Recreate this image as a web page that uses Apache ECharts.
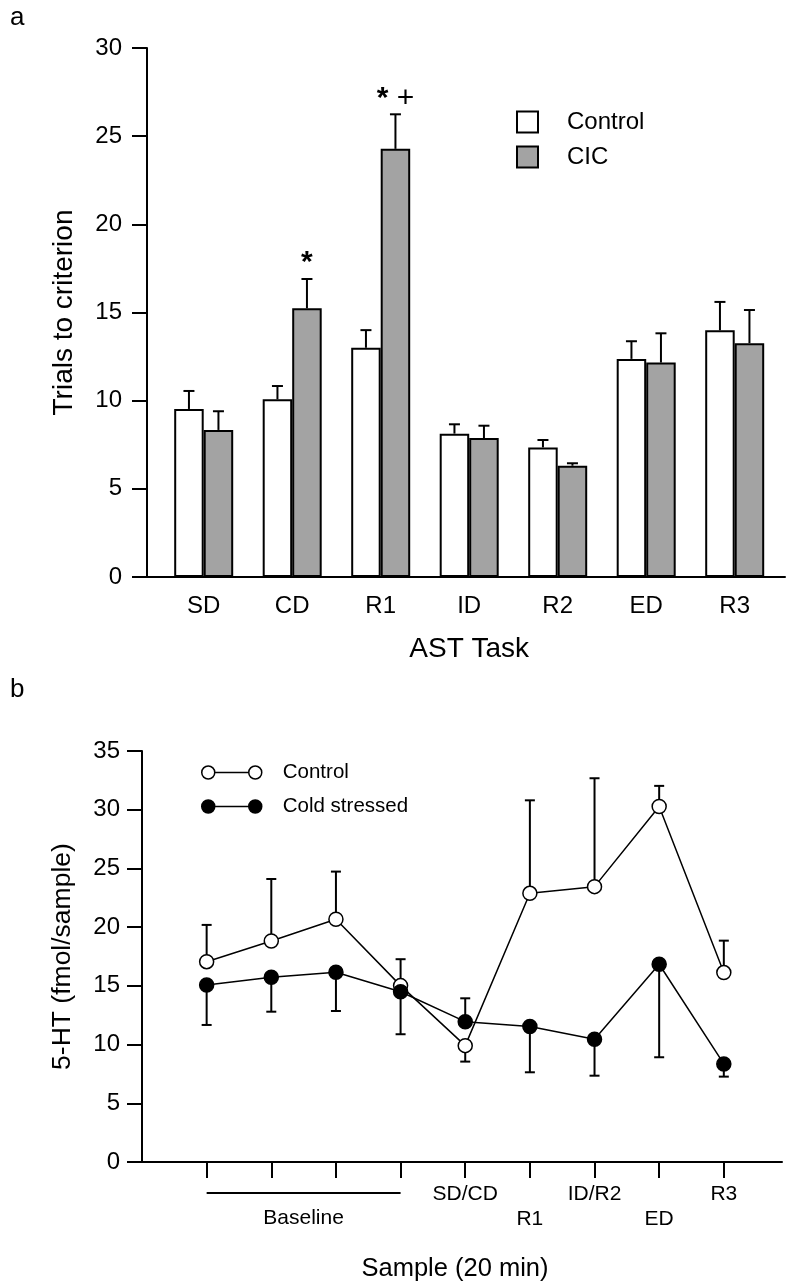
<!DOCTYPE html>
<html><head><meta charset="utf-8">
<script src="https://cdn.jsdelivr.net/npm/echarts@6/dist/echarts.min.js"></script>
<style>html,body{margin:0;padding:0;background:#fff}#c{width:800px;height:1287px}</style>
</head><body><div id="c"></div>
<script>
// ---------- Panel a data ----------
const tasks = ['SD', 'CD', 'R1', 'ID', 'R2', 'ED', 'R3'];
const controlTrials = [9.53, 10.08, 13.0, 8.13, 7.35, 12.37, 13.99];
const controlTrialsErrEnd = [10.55, 10.83, 14.0, 8.66, 7.77, 13.37, 15.6];
const cicTrials = [8.34, 15.24, 24.28, 7.88, 6.31, 12.16, 13.26];
const cicTrialsErrEnd = [9.4, 16.9, 26.24, 8.58, 6.45, 13.82, 15.14];
const cicSignif = ['', '*', '* +', '', '', '', ''];

// ---------- Panel b data ----------
const samples = [1, 2, 3, 4, 5, 6, 7, 8, 9];
const sampleLabels = ['', '', '', '', 'SD/CD', 'R1', 'ID/R2', 'ED', 'R3'];
const sampleLabelLower = [false, false, false, false, false, true, false, true, false];
const baselineSpan = [1, 4];
const baselineLabel = 'Baseline';
const controlHT = [17.06, 18.82, 20.67, 15.02, 9.91, 22.88, 23.45, 30.27, 16.13];
const controlHTErrEnd = [20.19, 24.1, 24.73, 17.27, 8.55, 30.8, 32.68, 32.03, 18.85];
const coldHT = [15.08, 15.73, 16.16, 14.5, 11.95, 11.53, 10.45, 16.84, 8.35];
const coldHTErrEnd = [11.67, 12.8, 12.86, 10.88, 13.94, 7.64, 7.35, 8.92, 7.27];

const FONT = '"Liberation Sans", Arial, sans-serif';
const BAR_W = 29.5;
const GRAY = '#a3a3a3';

const chart = echarts.init(document.getElementById('c'), null, {renderer: 'canvas'});

function barErrSeries(name, sign, means, ends, signif) {
  return {
    type: 'custom', name: name + ' err', xAxisIndex: 1, yAxisIndex: 1, z: 5, silent: true,
    data: tasks.map((t, i) => [i, means[i], ends[i]]),
    renderItem(params, api) {
      const i = api.value(0);
      const p0 = api.coord([i, api.value(1)]);
      const p1 = api.coord([i, api.value(2)]);
      const x = p0[0] + sign * BAR_W / 2;
      const st = {stroke: '#000', lineWidth: 2};
      const children = [
        {type: 'line', shape: {x1: x, y1: p0[1], x2: x, y2: p1[1]}, style: st},
        {type: 'line', shape: {x1: x - 5.5, y1: p1[1], x2: x + 5.5, y2: p1[1]}, style: st}
      ];
      const s = signif ? signif[params.dataIndex] : '';
      if (s) {
        children.push({type: 'text', x: x, y: p1[1] - 1,
          style: {text: s.replace(/\*/g, '{st|*}'), font: '30px ' + FONT, fill: '#000',
            align: 'center', verticalAlign: 'bottom',
            rich: {st: {fontWeight: 'bold', fontSize: 30, fontFamily: FONT, fill: '#000'}}}});
      }
      return {type: 'group', children};
    }
  };
}

function lineErrSeries(name, means, ends) {
  return {
    type: 'custom', name: name + ' err', xAxisIndex: 2, yAxisIndex: 2, z: 1, silent: true,
    data: samples.map((s, i) => [s, means[i], ends[i]]),
    renderItem(params, api) {
      const p0 = api.coord([api.value(0), api.value(1)]);
      const p1 = api.coord([api.value(0), api.value(2)]);
      const st = {stroke: '#000', lineWidth: 2};
      return {type: 'group', children: [
        {type: 'line', shape: {x1: p0[0], y1: p0[1], x2: p0[0], y2: p1[1]}, style: st},
        {type: 'line', shape: {x1: p0[0] - 5, y1: p1[1], x2: p0[0] + 5, y2: p1[1]}, style: st}
      ]};
    }
  };
}

const legendLinePath = 'path://M0 6.5A6.5 6.5 0 1 0 13 6.5A6.5 6.5 0 1 0 0 6.5Z M47 6.5A6.5 6.5 0 1 0 60 6.5A6.5 6.5 0 1 0 47 6.5Z M13 6.5L47 6.5';

const option = {
  animation: false,
  backgroundColor: '#fff',
  textStyle: {fontFamily: FONT, color: '#000'},
  graphic: [
    {type: 'text', left: 10, top: 5, style: {text: 'a', font: '26px ' + FONT, fill: '#000'}},
    {type: 'text', left: 10, top: 677, style: {text: 'b', font: '26px ' + FONT, fill: '#000'}}
  ],
  legend: [
    {
      orient: 'vertical', left: 511, top: 105, itemWidth: 21, itemHeight: 21, itemGap: 11,
      selectedMode: false, icon: 'rect',
      textStyle: {fontSize: 24, fontFamily: FONT, color: '#000', padding: [0, 0, 0, 24]},
      data: [
        {name: 'Control', itemStyle: {color: '#fff', borderColor: '#000', borderWidth: 2}},
        {name: 'CIC', itemStyle: {color: GRAY, borderColor: '#000', borderWidth: 2}}
      ]
    },
    {
      orient: 'vertical', left: 196, top: 757, itemWidth: 60, itemHeight: 13, itemGap: 13,
      selectedMode: false,
      textStyle: {fontSize: 20.5, fontFamily: FONT, color: '#000', padding: [0, 0, 0, 16]},
      data: [
        {name: 'Control', icon: legendLinePath, itemStyle: {color: '#fff', borderColor: '#000', borderWidth: 1.5}},
        {name: 'Cold stressed', icon: legendLinePath, itemStyle: {color: '#000', borderColor: '#000', borderWidth: 1.5}}
      ]
    }
  ],
  grid: [
    {left: 147, right: 15, top: 48, height: 529},
    {left: 159.45, right: 21.05, top: 48, height: 529},
    {left: 142, right: 18, top: 751, height: 411}
  ],
  xAxis: [
    {gridIndex: 0, type: 'value', min: 0, max: 1,
      axisLine: {show: true, lineStyle: {color: '#000', width: 2}},
      axisTick: {show: false}, axisLabel: {show: false}, splitLine: {show: false}},
    {gridIndex: 1, type: 'category', data: tasks,
      axisLine: {show: false}, axisTick: {show: false},
      axisLabel: {margin: 17, fontSize: 24, color: '#000', fontFamily: FONT},
      name: 'AST Task', nameLocation: 'middle', nameGap: 58,
      nameTextStyle: {fontSize: 28, color: '#000', fontFamily: FONT}},
    {gridIndex: 2, type: 'value', min: 0, max: 9.9,
      axisLine: {show: true, lineStyle: {color: '#000', width: 2}},
      axisTick: {show: true, length: 16, customValues: samples, lineStyle: {color: '#000', width: 2}},
      axisLabel: {customValues: samples, margin: 20, fontSize: 21, lineHeight: 25, color: '#000', fontFamily: FONT,
        formatter: v => {
          const i = samples.indexOf(v);
          if (i < 0) return '';
          return sampleLabelLower[i] ? '\n' + sampleLabels[i] : sampleLabels[i];
        }},
      splitLine: {show: false},
      name: 'Sample (20 min)', nameLocation: 'middle', nameGap: 94,
      nameTextStyle: {fontSize: 25.5, color: '#000', fontFamily: FONT, padding: [0, 14, 0, 0]}}
  ],
  yAxis: [
    {gridIndex: 0, type: 'value', min: 0, max: 30, interval: 5,
      axisLine: {show: true, lineStyle: {color: '#000', width: 2}},
      axisTick: {show: true, length: 15, lineStyle: {color: '#000', width: 2}},
      axisLabel: {margin: 25, fontSize: 24, color: '#000', fontFamily: FONT},
      splitLine: {show: false},
      name: 'Trials to criterion', nameLocation: 'middle', nameGap: 69,
      nameTextStyle: {fontSize: 28, color: '#000', fontFamily: FONT}},
    {gridIndex: 1, type: 'value', min: 0, max: 30, interval: 5, show: false},
    {gridIndex: 2, type: 'value', min: 0, max: 35, interval: 5,
      axisLine: {show: true, lineStyle: {color: '#000', width: 2}},
      axisTick: {show: true, length: 15, lineStyle: {color: '#000', width: 2}},
      axisLabel: {margin: 22, fontSize: 24, color: '#000', fontFamily: FONT},
      splitLine: {show: false},
      name: '5-HT (fmol/sample)', nameLocation: 'middle', nameGap: 66,
      nameTextStyle: {fontSize: 26.5, color: '#000', fontFamily: FONT}}
  ],
  series: [
    {type: 'bar', name: 'Control', xAxisIndex: 1, yAxisIndex: 1, data: controlTrials,
      barWidth: BAR_W, barGap: '0%', z: 2,
      itemStyle: {color: '#fff', borderColor: '#000', borderWidth: 2}, emphasis: {disabled: true}},
    {type: 'bar', name: 'CIC', xAxisIndex: 1, yAxisIndex: 1, data: cicTrials,
      barWidth: BAR_W, barGap: '0%', z: 2,
      itemStyle: {color: GRAY, borderColor: '#000', borderWidth: 2}, emphasis: {disabled: true}},
    barErrSeries('Control', -1, controlTrials, controlTrialsErrEnd, null),
    barErrSeries('CIC', 1, cicTrials, cicTrialsErrEnd, cicSignif),
    {type: 'custom', name: 'baseline', xAxisIndex: 2, yAxisIndex: 2, silent: true, z: 3,
      data: [[baselineSpan[0], baselineSpan[1]]],
      renderItem(params, api) {
        const a = api.coord([api.value(0), 0]);
        const b = api.coord([api.value(1), 0]);
        return {type: 'group', children: [
          {type: 'line', shape: {x1: a[0], y1: a[1] + 31, x2: b[0], y2: b[1] + 31}, style: {stroke: '#000', lineWidth: 2}},
          {type: 'text', x: (a[0] + b[0]) / 2, y: a[1] + 56,
            style: {text: baselineLabel, font: '21px ' + FONT, fill: '#000', align: 'center', verticalAlign: 'middle'}}
        ]};
      }},
    lineErrSeries('Control', controlHT, controlHTErrEnd),
    lineErrSeries('Cold stressed', coldHT, coldHTErrEnd),
    {type: 'line', name: 'Control', xAxisIndex: 2, yAxisIndex: 2, z: 4,
      data: samples.map((s, i) => [s, controlHT[i]]),
      symbol: 'circle', symbolSize: 14,
      lineStyle: {color: '#000', width: 1.5},
      itemStyle: {color: '#fff', borderColor: '#000', borderWidth: 1.5}, emphasis: {disabled: true}},
    {type: 'line', name: 'Cold stressed', xAxisIndex: 2, yAxisIndex: 2, z: 5,
      data: samples.map((s, i) => [s, coldHT[i]]),
      symbol: 'circle', symbolSize: 14,
      lineStyle: {color: '#000', width: 1.5},
      itemStyle: {color: '#000', borderColor: '#000', borderWidth: 1.5}, emphasis: {disabled: true}}
  ]
};
chart.setOption(option);
</script>
</body></html>
